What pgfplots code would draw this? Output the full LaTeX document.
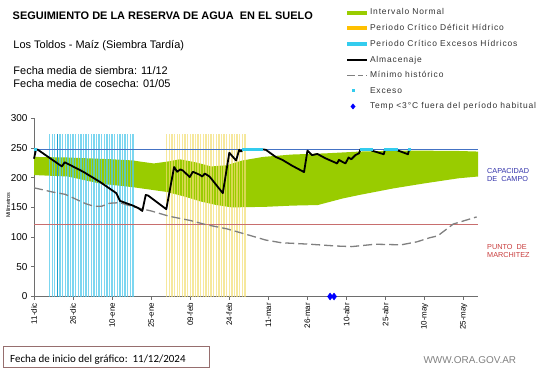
\documentclass[border=0pt]{standalone}
\usepackage{fontspec}
\setmainfont{Liberation Sans}
\newfontfamily\carlito{Carlito}
\newfontfamily\legfont[LetterSpace=10]{Liberation Sans}
\usepackage{pgfplots}
\pgfplotsset{compat=1.18}
\definecolor{normgreen}{RGB}{153,204,0}
\definecolor{excblue}{RGB}{80,200,235}
\definecolor{excdark}{RGB}{30,160,205}
\definecolor{defyel}{RGB}{242,222,115}
\definecolor{legyel}{RGB}{255,192,0}
\definecolor{legcyan}{RGB}{51,204,238}
\definecolor{cdcblue}{RGB}{68,114,196}
\definecolor{pmred}{RGB}{200,110,110}
\definecolor{axgray}{RGB}{110,110,110}
\definecolor{capblue}{RGB}{50,50,170}
\definecolor{marchred}{RGB}{200,60,60}
\definecolor{boxbrown}{RGB}{150,110,110}
\begin{document}
\begin{tikzpicture}[x=1bp,y=1bp]
\useasboundingbox (0,0) rectangle (541,368);
\begin{axis}[
  at={(34bp,71.5bp)}, anchor=south west,
  scale only axis, width=444bp, height=178.2bp,
  xmin=0, xmax=170.5, ymin=0, ymax=300,
  axis x line=bottom, axis y line=left,
  axis line style={-, axgray, line width=0.8bp},
  clip=false,
  xtick={0,15,...,165},
  xticklabels={11-dic,26-dic,10-ene,25-ene,09-feb,24-feb,11-mar,26-mar,10-abr,25-abr,10-may,25-may},
  x tick label style={rotate=90, anchor=east, font=\fontsize{8}{9}\selectfont},
  ytick={0,50,...,300},
  y tick label style={font=\fontsize{10}{11}\selectfont},
  /pgf/number format/assume math mode=true,
  tick style={axgray, line width=0.7bp}, major tick length=3bp, tick align=outside,
  ylabel={Milímetros},
  every axis y label/.style={at={(axis description cs:-0.058,0.513)}, rotate=90, anchor=center, font=\fontsize{5.5}{6}\selectfont},
  legend style={at={(axis description cs:0.700,1.621)}, anchor=north west, draw=none, fill=none,
    font=\legfont\fontsize{8.5}{9.5}\selectfont, row sep=6.0bp, inner sep=0pt, nodes={inner sep=1bp, text=black!80}},
  legend cell align=left,
]
% legend entries
\addlegendimage{legend image code/.code={\draw[normgreen, line width=4bp] (0bp,0bp) -- (20bp,0bp);}}
\addlegendentry{Intervalo Normal}
\addlegendimage{legend image code/.code={\draw[legyel, line width=4bp] (0bp,0bp) -- (20bp,0bp);}}
\addlegendentry{Periodo Crítico Déficit Hídrico}
\addlegendimage{legend image code/.code={\draw[legcyan, line width=4bp] (0bp,0bp) -- (20bp,0bp);}}
\addlegendentry{Periodo Crítico Excesos Hídricos}
\addlegendimage{legend image code/.code={\draw[black, line width=2bp] (0bp,0bp) -- (20bp,0bp);}}
\addlegendentry{Almacenaje}
\addlegendimage{legend image code/.code={\draw[gray, line width=1.3bp, dash pattern=on 8bp off 3bp on 5bp off 3bp] (0bp,0bp) -- (20bp,0bp);}}
\addlegendentry{Mínimo histórico}
\addlegendimage{draw=none, legend image code/.code={\path[draw=none] (0bp,0bp) -- (20bp,0bp); \fill[legcyan, draw=none] (4.5bp,-1.5bp) rectangle (7.5bp,1.5bp);}}
\addlegendentry{Exceso}
\addlegendimage{draw=none, legend image code/.code={\path[draw=none] (0bp,0bp) -- (20bp,0bp); \fill[blue, draw=none] (6bp,-3bp) -- (8.5bp,0bp) -- (6bp,3bp) -- (3.5bp,0bp) -- cycle;}}
\addlegendentry{Temp <3°C fuera del período habitual}

% green band (upper bound forward, lower bound backward)
\addplot[fill=normgreen, draw=none, forget plot] coordinates {
(0,235)(13,234)(30,231)(38,229)(41,227)(46,224)(51,227)(56,231)(62,226)(68,219)(74,221)(80,229)(88,235)(99,239)(112,241)(125,244)(138,245.5)(150,245.5)(163,245)(170.5,244)
(170.5,202)(163,199)(150,190.5)(138,182)(125,171)(118.5,165)(109,154)(99,153)(89,151)(76,150)(70,154)(64,160)(58,168)(51,176)(38,184)(25.5,190)(13,202)(0,204.5)};

% critical periods (daily bars)
\addplot[ycomb, excblue, line width=1.3bp, opacity=0.75, forget plot] coordinates {
(6,273)(7,273)(8,273)(10,273)(11,273)(12,273)(13,273)(14,273)(15,273)(16,273)(17,273)(18,273)(19,273)(20,273)(21,273)(22,273)(23,273)(24,273)(25,273)(26,273)(27,273)(28,273)(29,273)(30,273)(31,273)(32,273)(33,273)(34,273)(35,273)(36,273)(37,273)(38,273)};
\addplot[ycomb, excdark, line width=1.3bp, forget plot] coordinates {(9,273)};
\addplot[ycomb, defyel, line width=1.3bp, opacity=0.7, forget plot] coordinates {
(51,273)(52,273)(53,273)(54,273)(55,273)(56,273)(57,273)(58,273)(59,273)(60,273)(61,273)(62,273)(63,273)(64,273)(65,273)(66,273)(67,273)(68,273)(69,273)(70,273)(71,273)(72,273)(73,273)(74,273)(75,273)(76,273)(77,273)(78,273)(79,273)(80,273)(81,273)};

% reference lines
\addplot[cdcblue, line width=0.8bp, forget plot] coordinates {(0,248)(170.5,248)};
\addplot[pmred, line width=1.1bp, forget plot] coordinates {(0,121)(170.5,121)};

% minimo historico
\addplot[gray, line width=1.3bp, dash pattern=on 9bp off 4bp, forget plot] coordinates {
(0,183)(7,176)(12,172)(16,164)(20,156)(23,152)(26,152)(29,157)(33,158)(38,151)(45,144)(52,135)(60,128)(66,121)(74,114)(82,104)(89,95)(95,90.5)(106,88)(116,85)(122,84)(131,88)(141,87)(147,92)(152,99)(155,102)(161,122)(170,134)};

% almacenaje
\addplot[black, line width=1.8bp, line join=round, forget plot] coordinates {
(0,232)(0.8,248)(1.5,247)(10.7,219)(11.8,226)(18.9,210)(25.3,193)(31.6,174)(33,161)(38,153)(40,149)(41.6,144)(42.9,171)(43.8,170)(50.8,147)(53.8,218)(55,210)(56.2,214)(57.2,212)(59.8,201)(61,210)(63.6,205)(64.6,202)(65.6,207)(67.4,202)(72.5,174)(75,242)(77.6,229)(78.8,247)(79.5,244)(80,246)(80.5,248)(87,248)(89,247)(92.8,235)(95.4,230)(99.2,220)(103.7,209.5)(105,245.5)(106.8,238)(108.8,240)(112,232.5)(116.4,224)(117.1,230)(118.3,227)(119.6,224)(120.8,234)(121.8,231)(123.4,238)(124.8,241)(125.4,248)(129.3,248)(129.8,245.5)(134.3,239.5)(134.8,248)(138.8,248)(139.3,246.5)(143.6,239.5)(144.1,248)};

% exceso
\addplot[only marks, mark=square*, mark size=1.3bp, legcyan, forget plot] coordinates {
(0.5,248)(80.5,248)(81,248)(81.5,248)(82,248)(82.5,248)(83,248)(83.5,248)(84,248)(84.5,248)(85,248)(85.5,248)(86,248)(86.5,248)(87,248)
(125.8,248)(126.3,248)(126.8,248)(127.3,248)(127.8,248)(128.3,248)(128.8,248)(129.3,248)
(134.8,248)(135.3,248)(135.8,248)(136.3,248)(136.8,248)(137.3,248)(137.8,248)(138.3,248)(138.8,248)(144.1,248)};

% temp
\addplot[only marks, mark=diamond*, mark size=3.5bp, blue, forget plot] coordinates {(113.7,0)(115.2,0)};
\end{axis}

% texts
\node[anchor=base west, font=\bfseries\fontsize{11}{13}\selectfont, inner sep=0pt] at (12.5,348.7) {SEGUIMIENTO DE LA RESERVA DE AGUA\ \ EN EL SUELO};
\node[anchor=base west, font=\fontsize{11}{13}\selectfont, inner sep=0pt] at (13.3,320) {Los Toldos - Maíz\ (Siembra Tardía)};
\node[anchor=base west, font=\fontsize{11}{13}\selectfont, inner sep=0pt] at (13.3,294) {Fecha media de siembra: 11/12};
\node[anchor=base west, font=\fontsize{11}{13}\selectfont, inner sep=0pt] at (13.3,280.7) {Fecha media de cosecha: 01/05};

\node[anchor=base west, font=\fontsize{7.3}{8}\selectfont, text=capblue, inner sep=0pt] at (487,194.5) {CAPACIDAD};
\node[anchor=base west, font=\fontsize{7.3}{8}\selectfont, text=capblue, inner sep=0pt] at (487,186.3) {DE\ \ CAMPO};
\node[anchor=base west, font=\fontsize{7.3}{8}\selectfont, text=marchred, inner sep=0pt] at (487,118.5) {PUNTO\ \ DE};
\node[anchor=base west, font=\fontsize{7.3}{8}\selectfont, text=marchred, inner sep=0pt] at (487,110.3) {MARCHITEZ};

\draw[boxbrown, line width=0.8bp] (3.5,1) rectangle (209,22);
\node[anchor=base west, font=\carlito\fontsize{11}{13}\selectfont, inner sep=0pt] at (10,6) {Fecha de inicio del gráfico:\ \ 11/12/2024};
\node[anchor=base west, font=\fontsize{10}{12}\selectfont, text=gray, inner sep=0pt] at (423.3,4.7) {WWW.ORA.GOV.AR};
\end{tikzpicture}
\end{document}
